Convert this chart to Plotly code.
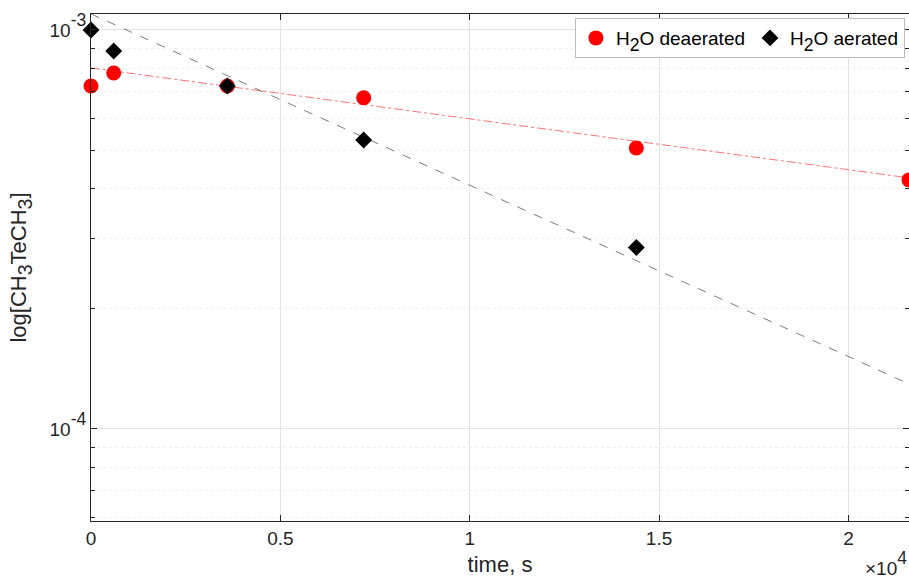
import plotly.graph_objects as go

# Data
t = [0, 600, 3600, 7200, 14400, 21600]
deaerated = [7.24e-4, 7.80e-4, 7.24e-4, 6.76e-4, 5.06e-4, 4.21e-4]
aerated = [1.0e-3, 8.86e-4, 7.24e-4, 5.30e-4, 2.85e-4, 5.88e-5]

# Fit line end points
fit_t = [0, 21600]
fit_deaerated = [8.03e-4, 4.26e-4]
fit_aerated = [1.097e-3, 1.297e-4]

x_ticks = [0, 5000, 10000, 15000, 20000]
x_ticktext = ["0", "0.5", "1", "1.5", "2"]
y_ticks = [1e-4, 1e-3]
y_ticktext = ["10<span style='font-size:25px'><sup>-4</sup></span>",
              "10<span style='font-size:25px'><sup>-3</sup></span>"]
y_minor = [6e-5, 7e-5, 8e-5, 9e-5, 2e-4, 3e-4, 4e-4, 5e-4, 6e-4, 7e-4, 8e-4, 9e-4]

font = "Liberation Sans, Arial, sans-serif"
sub3 = "<span style='font-size:28px'><sub>3</sub></span>"
sub2 = "<span style='font-size:25px'><sub>2</sub></span>"

fig = go.Figure()
fig.add_trace(go.Scatter(x=fit_t, y=fit_deaerated, mode="lines",
                         line=dict(color="rgba(255,80,80,0.8)", width=1, dash="dashdot"),
                         showlegend=False, hoverinfo="skip"))
fig.add_trace(go.Scatter(x=fit_t, y=fit_aerated, mode="lines",
                         line=dict(color="rgba(110,110,110,0.9)", width=1, dash="dash"),
                         showlegend=False, hoverinfo="skip"))
fig.add_trace(go.Scatter(x=t, y=deaerated, mode="markers", name="H" + sub2 + "O deaerated",
                         marker=dict(color="#ff0000", size=15, symbol="circle"), cliponaxis=False))
fig.add_trace(go.Scatter(x=t, y=aerated, mode="markers", name="H" + sub2 + "O aerated",
                         marker=dict(color="#000000", size=13, symbol="diamond"), cliponaxis=False))

fig.update_layout(
    width=909, height=581,
    margin=dict(l=91, r=0, t=14, b=60),
    plot_bgcolor="white", paper_bgcolor="white",
    font=dict(family=font, size=19, color="#262626"),
    legend=dict(orientation="h", x=0.995, xanchor="right", y=0.992, yanchor="top",
                bgcolor="white", bordercolor="#bdbdbd", borderwidth=1,
                font=dict(size=19, color="#000000"), itemwidth=30,
                tracegroupgap=0),
)
fig.update_xaxes(range=[0, 21600], tickvals=x_ticks, ticktext=x_ticktext,
                 ticks="inside", ticklen=6, tickcolor="#262626",
                 showline=True, linecolor="#262626", linewidth=1, mirror="ticks",
                 showgrid=True, gridcolor="#e3e3e3", zeroline=False,
                 title=dict(text="time, s", standoff=8, font=dict(size=22)))
fig.update_yaxes(type="log", range=[-4.2306, -2.9600], tickvals=y_ticks, ticktext=y_ticktext,
                 ticks="inside", ticklen=6, tickcolor="#262626",
                 showline=True, linecolor="#262626", linewidth=1, mirror="ticks",
                 showgrid=True, gridcolor="#e3e3e3", zeroline=False,
                 minor=dict(tickmode="array", tickvals=y_minor, ticks="inside", ticklen=4,
                            tickcolor="#262626", showgrid=True, gridcolor="#efefef",
                            griddash="dot"),
                 title=dict(text="log[CH" + sub3 + "TeCH" + sub3 + "]", standoff=16,
                            font=dict(size=22)))
fig.add_annotation(text="×10<span style='font-size:25px'><sup>4</sup></span>",
                   xref="paper", yref="paper", x=1.0, y=-0.118,
                   xanchor="right", yanchor="bottom", showarrow=False,
                   font=dict(size=19, color="#262626"))

fig.write_html("out.html")
